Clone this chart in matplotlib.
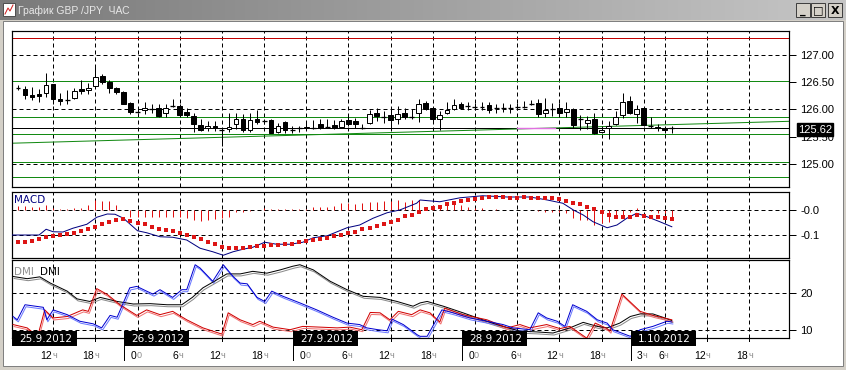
import matplotlib
matplotlib.use("Agg")
import matplotlib.pyplot as plt
import matplotlib.transforms as mtrans
from matplotlib.colors import LinearSegmentedColormap
from matplotlib.patches import Rectangle
import numpy as np

W, H, DPI = 846, 370, 100
PX = 72.0 / DPI          # one screen pixel in points

# ---- price panel: hourly candles, bar 0 = 25.9.2012 07:00 ----
OPEN = [126.395, 126.376, 126.255, 126.273, 126.304, 126.455, 126.195, 126.169, 126.213, 126.364,
        126.351, 126.424, 126.605, 126.496, 126.395, 126.322, 126.109, 125.958, 125.982, 126.013,
        126.031, 125.940, 126.060, 126.060, 125.958, 125.878, 125.715, 125.649, 125.696, 125.624,
        125.636, 125.727, 125.831, 125.624, 125.831, 125.782, 125.805, 125.587, 125.769, 125.624,
        125.667, 125.655, 125.667, 125.727, 125.678, 125.709, 125.685, 125.800, 125.787, 125.649,
        125.758, 125.940, 125.867, 125.891, 125.818, 125.940, 125.867, 125.927, 126.122, 126.031,
        125.818, 125.927, 126.013, 126.091, 126.060, 126.042, 126.042, 126.073, 126.018, 126.031,
        126.018, 126.036, 126.042, 126.104, 126.109, 125.927, 126.013, 126.031, 125.951, 126.013,
        125.831, 125.758, 125.818, 125.576, 125.667, 125.727, 125.891, 126.151, 125.909, 126.031,
        125.696, 125.685, 125.655, 125.649]
HIGH = [126.436, 126.424, 126.405, 126.376, 126.655, 126.467, 126.304, 126.345, 126.395, 126.527,
        126.485, 126.776, 126.636, 126.533, 126.413, 126.333, 126.133, 126.000, 126.133, 126.091,
        126.091, 126.104, 126.182, 126.091, 126.031, 125.940, 125.818, 125.787, 125.787, 125.667,
        125.940, 125.927, 125.909, 125.940, 125.987, 125.818, 125.831, 125.758, 125.787, 125.696,
        125.696, 125.787, 125.800, 125.818, 125.831, 125.800, 125.818, 125.878, 125.849, 125.727,
        125.987, 126.031, 125.969, 126.000, 126.060, 126.031, 126.000, 126.182, 126.151, 126.042,
        125.964, 126.133, 126.195, 126.133, 126.133, 126.122, 126.133, 126.133, 126.104, 126.122,
        126.091, 126.109, 126.151, 126.164, 126.195, 126.213, 126.122, 126.122, 126.133, 126.031,
        125.891, 125.878, 125.940, 125.696, 125.787, 125.969, 126.304, 126.242, 126.073, 126.031,
        125.867, 125.740, 125.696, 125.696]
LOW = [126.345, 126.195, 126.169, 126.133, 126.231, 126.091, 126.073, 126.104, 126.195, 126.273,
       126.273, 126.424, 126.455, 126.304, 126.285, 126.104, 125.922, 125.927, 125.922, 125.940,
       125.867, 125.867, 126.042, 125.867, 125.867, 125.576, 125.605, 125.605, 125.605, 125.322,
       125.587, 125.636, 125.587, 125.587, 125.740, 125.727, 125.564, 125.564, 125.564, 125.564,
       125.587, 125.636, 125.636, 125.636, 125.649, 125.636, 125.655, 125.696, 125.667, 125.636,
       125.727, 125.787, 125.758, 125.636, 125.740, 125.831, 125.831, 125.769, 125.982, 125.787,
       125.618, 125.909, 125.987, 126.013, 125.982, 125.982, 125.982, 125.940, 125.940, 125.951,
       125.927, 125.980, 126.031, 126.078, 125.860, 125.867, 125.878, 125.867, 125.867, 125.667,
       125.624, 125.636, 125.545, 125.564, 125.455, 125.709, 125.849, 125.909, 125.758, 125.696,
       125.667, 125.605, 125.564, 125.564]
CLOSE = [126.395, 126.255, 126.231, 126.236, 126.436, 126.195, 126.145, 126.169, 126.333, 126.327,
         126.395, 126.595, 126.504, 126.395, 126.315, 126.104, 125.958, 125.958, 126.031, 126.013,
         125.878, 126.018, 126.060, 125.891, 125.891, 125.727, 125.624, 125.696, 125.655, 125.624,
         125.685, 125.831, 125.618, 125.813, 125.769, 125.782, 125.564, 125.696, 125.624, 125.624,
         125.667, 125.678, 125.667, 125.667, 125.678, 125.667, 125.787, 125.740, 125.740, 125.649,
         125.909, 125.878, 125.867, 125.805, 125.909, 125.867, 125.867, 126.104, 126.013, 125.831,
         125.891, 125.982, 126.073, 126.031, 126.060, 126.042, 126.042, 125.987, 126.018, 126.031,
         126.018, 126.036, 126.042, 126.104, 125.922, 125.982, 126.013, 125.927, 126.000, 125.715,
         125.831, 125.800, 125.564, 125.624, 125.696, 125.867, 126.133, 125.940, 126.013, 125.709,
         125.696, 125.655, 125.618, 125.649]

LEVEL_RED = 127.30
LEVELS_GREEN = [126.52, 125.85, 125.545, 125.03, 124.76]
LAST_LINE = 125.65
LAST_LABEL = "125.62"
TREND_X = [-0.85, 109.7]
TREND_Y = [125.38, 125.78]
PINK_X = [71.0, 76.4]
PRICE_TICKS = [127.0, 126.5, 126.0, 125.5, 125.0]
PRICE_GRID = [127.0, 126.0, 125.0]

# ---- MACD panel ----
MACD_X = [-1, 3, 4, 5, 6.4, 7.8, 9.8, 11.2, 12.7, 13.8, 15, 17, 18.3, 20.2, 22, 24, 25.9, 27.7, 29.2,
          30.6, 32, 33.4, 35.1, 36.8, 38.7, 40.5, 42, 44, 46.8, 48.6, 50.5, 52.5, 54.3, 56.7, 57.2,
          60, 62.9, 66.1, 69.6, 72.8, 75.3, 77.5, 79, 80.4, 81.8, 83.8, 85.2, 86.6, 88, 89.5, 91.3, 93]
MACD_Y = [-0.100, -0.100, -0.077, -0.087, -0.088, -0.073, -0.057, -0.029, -0.016, -0.017, -0.033,
          -0.083, -0.091, -0.107, -0.109, -0.120, -0.153, -0.167, -0.181, -0.167, -0.157, -0.149,
          -0.129, -0.137, -0.137, -0.129, -0.111, -0.103, -0.071, -0.060, -0.033, -0.011, 0.000,
          0.027, 0.040, 0.033, 0.049, 0.057, 0.052, 0.052, 0.040, 0.027, 0.000, -0.020, -0.047,
          -0.071, -0.060, -0.033, -0.013, -0.027, -0.047, -0.067]
SIGNAL = [-0.129, -0.127, -0.123, -0.117, -0.109, -0.104, -0.100, -0.097, -0.091, -0.084,
          -0.077, -0.069, -0.057, -0.047, -0.040, -0.037, -0.044, -0.053, -0.057, -0.067,
          -0.077, -0.080, -0.083, -0.093, -0.100, -0.107, -0.116, -0.127, -0.137, -0.147,
          -0.151, -0.153, -0.153, -0.149, -0.144, -0.143, -0.140, -0.140, -0.137, -0.136,
          -0.129, -0.124, -0.120, -0.116, -0.111, -0.104, -0.100, -0.093, -0.087, -0.077,
          -0.071, -0.063, -0.057, -0.049, -0.040, -0.023, -0.020, -0.008, 0.003, 0.009,
          0.013, 0.023, 0.027, 0.036, 0.040, 0.044, 0.049, 0.051, 0.051, 0.051,
          0.049, 0.049, 0.051, 0.049, 0.049, 0.047, 0.047, 0.043, 0.037, 0.029,
          0.023, 0.013, 0.003, -0.009, -0.020, -0.029, -0.029, -0.027, -0.020, -0.024,
          -0.027, -0.029, -0.033, -0.037]
HIST = [0.017, 0.017, 0.013, 0.013, 0.020, 0.007, 0.004, 0.004, 0.009, 0.009,
        0.020, 0.040, 0.037, 0.037, 0.020, 0.000, -0.027, -0.027, -0.029, -0.029,
        -0.029, -0.027, -0.027, -0.029, -0.033, -0.040, -0.044, -0.040, -0.036, -0.033,
        -0.027, -0.007, -0.007, -0.004, 0.000, 0.007, 0.003, 0.003, 0.003, 0.003,
        0.003, 0.003, 0.013, 0.013, 0.013, 0.017, 0.027, 0.027, 0.023, 0.027,
        0.033, 0.033, 0.036, 0.036, 0.040, 0.033, 0.040, 0.040, 0.013, 0.020,
        0.020, 0.027, 0.027, 0.020, 0.013, 0.009, 0.007, 0.000, 0.003, 0.000,
        0.000, 0.000, 0.000, 0.000, -0.003, -0.007, -0.009, -0.009, -0.013, -0.033,
        -0.040, -0.040, -0.060, -0.053, -0.049, -0.033, -0.020, -0.007, 0.009, 0.000,
        -0.004, -0.013, -0.013, -0.033]

# ---- DMI panel ----
ADX_X = [-0.7, 1.3, 3.1, 4.6, 7.0, 8.4, 10.2, 11.7, 14.1, 16.4, 18.8, 21.2, 23.3, 24.8, 26.3, 28.3,
         29.7, 31.6, 33.4, 35.4, 37.3, 39.1, 40.1, 42.0, 44.4, 46.8, 49.1, 51.5, 53.9, 56.2, 57.2,
         58.2, 60.5, 63.3, 66.7, 69.0, 71.4, 73.8, 76.1, 78.5, 80.4, 82.4, 83.8, 85.6, 87.1, 88.5,
         90.3, 91.7, 93.0]
ADX_Y = [24.5, 23.9, 24.4, 22.7, 20.5, 18.4, 17.7, 18.8, 17.7, 17.0, 17.1, 16.8, 16.8, 18.8, 21.4,
         23.6, 25.2, 25.2, 25.9, 25.4, 26.3, 27.3, 27.7, 26.3, 23.2, 20.9, 19.1, 18.8, 17.7, 16.4,
         17.3, 17.7, 16.4, 14.6, 12.3, 10.9, 9.6, 9.4, 9.1, 10.5, 12.0, 10.9, 10.5, 11.8, 13.6, 14.3,
         14.3, 13.4, 12.5]
PDI_X = [-0.7, -0.1, 1.0, 2.1, 3.6, 4.1, 5.0, 7.0, 8.8, 10.7, 11.9, 13.1, 14.1, 15.9, 16.9, 18.3,
         19.2, 20.2, 22.0, 23.3, 24.0, 25.2, 25.9, 27.7, 29.2, 30.6, 31.6, 32.6, 34.0, 35.1, 36.1,
         37.7, 40.1, 42.5, 44.8, 46.8, 48.6, 49.6, 51.2, 52.5, 53.2, 54.8, 56.8, 57.2, 58.2, 60.3,
         61.9, 64.3, 66.7, 69.0, 70.4, 72.8, 74.0, 75.2, 76.7, 77.8, 78.9, 80.9, 82.4, 83.8, 84.6,
         87.1, 88.5, 90.3, 92.3, 93.0]
PDI_Y = [13.6, 12.7, 16.8, 16.5, 16.1, 12.7, 15.4, 14.1, 12.3, 11.6, 10.5, 13.9, 13.4, 21.4, 21.8,
         20.5, 19.7, 20.9, 18.8, 20.9, 20.9, 27.7, 26.8, 23.2, 27.7, 24.5, 22.7, 22.5, 18.8, 17.7,
         20.5, 19.1, 17.3, 15.4, 13.4, 11.8, 11.4, 10.5, 10.0, 9.7, 12.9, 11.4, 8.6, 8.2, 8.2, 15.4,
         14.6, 13.2, 12.3, 11.4, 10.5, 10.0, 14.6, 13.2, 12.3, 10.9, 16.8, 15.0, 12.7, 11.8, 10.0,
         8.2, 10.0, 10.9, 12.3, 12.1]
MDI_X = [-0.7, 1.3, 2.8, 3.8, 5.0, 7.0, 9.2, 10.0, 11.2, 12.7, 14.5, 16.9, 18.3, 20.2, 22.0, 24.0,
         26.3, 29.0, 29.9, 31.6, 33.4, 34.4, 36.3, 38.7, 40.5, 43.0, 45.4, 47.2, 48.9, 50.1, 51.5,
         52.9, 54.1, 56.0, 57.2, 58.6, 60.0, 60.7, 63.3, 66.7, 69.6, 71.4, 72.8, 75.2, 77.1, 78.5,
         80.9, 82.1, 83.8, 84.2, 85.9, 88.5, 90.3, 93.0]
MDI_Y = [11.4, 10.5, 8.2, 15.4, 13.2, 13.6, 15.4, 15.0, 21.2, 19.6, 16.8, 13.9, 15.4, 14.1, 15.0,
         12.7, 10.5, 8.8, 14.6, 12.7, 11.4, 12.3, 10.7, 10.0, 10.9, 10.7, 10.5, 10.7, 10.0, 14.7,
         14.6, 12.7, 15.0, 14.1, 15.4, 14.6, 12.1, 15.9, 14.1, 12.7, 10.5, 11.4, 10.5, 11.4, 10.3,
         10.9, 7.7, 11.8, 10.3, 9.6, 19.7, 15.0, 13.9, 12.7]

# ---- time axis ----
GRID_IDX = [5, 11, 17, 23, 29, 35, 41, 47, 53, 59, 65, 71, 77, 83, 89, 92, 98, 104]
TIME_NUM = ["12", "18", "0", "6", "12", "18", "0", "6", "12", "18", "0", "6", "12", "18",
            "3", "6", "12", "18"]
TIME_SUF = ["ч", "ч", "0", "ч", "ч", "ч", "0", "ч", "ч", "ч", "0", "ч", "ч", "ч", "ч", "ч", "ч", "ч"]
DAY_SEP = [15.1, 39.1, 63.2, 87.2]
DAY_TXT = ["25.9.2012", "26.9.2012", "27.9.2012", "28.9.2012", "1.10.2012"]

XMIN, XMAX = -0.853, 109.67
BAR_PX = 7.03
NARROW = "Liberation Sans"

plt.rcParams["font.family"] = ["DejaVu Sans"]
fig = plt.figure(figsize=(W / DPI, H / DPI), dpi=DPI, facecolor="#d4d0c8")


def px_axes(x0, y0, x1, y1):
    return fig.add_axes([x0 / W, 1 - y1 / H, (x1 - x0) / W, (y1 - y0) / H])


def fig_rect(x0, y0, x1, y1, z=5, **kw):
    fig.add_artist(Rectangle((x0 / W, 1 - y1 / H), (x1 - x0) / W, (y1 - y0) / H,
                             transform=fig.transFigure, zorder=z, **kw))


# window chrome
fig_rect(3, 21, 843, 366, z=-10, facecolor="white", edgecolor="#808080", lw=PX)
axt = px_axes(0, 0, 846, 20)
axt.imshow(np.linspace(0, 1, 256)[None, :], aspect="auto", extent=[0, 1, 0, 1],
           cmap=LinearSegmentedColormap.from_list("tb", ["#7a7a7a", "#c6c6c6"]))
axt.set_axis_off()
fig_rect(3, 3, 15, 16, facecolor="white", edgecolor="#505050", lw=PX)
fig.add_artist(plt.Line2D([5 / W, 8 / W, 10 / W, 13 / W],
                          [1 - 14 / H, 1 - 8 / H, 1 - 11 / H, 1 - 5 / H],
                          transform=fig.transFigure, color="#d02020", lw=PX, zorder=6))
fig.text(18 / W, 1 - 10.5 / H, "График GBP /JPY  ЧАС", color="#e8e8e8", fontsize=7.5,
         family=NARROW, va="center", ha="left", zorder=6)
for (bx, glyph) in [(796, "_"), (811, "□"), (828, "X")]:
    fig_rect(bx, 3, bx + 14, 17, facecolor="#d4d0c8", edgecolor="#404040", lw=PX)
    fig.text((bx + 7) / W, 1 - 10.5 / H, glyph, fontsize=8, fontweight="bold",
             ha="center", va="center", color="black", zorder=6)

axp = px_axes(12, 31, 789, 187)
axm = px_axes(12, 192, 789, 258)
axd = px_axes(12, 260, 789, 338)
DASH = (0, (4, 3))
for ax in (axp, axm, axd):
    ax.set_xlim(XMIN, XMAX)
    ax.set_facecolor("white")
    for s in ax.spines.values():
        s.set_linewidth(1.2 * PX)
        s.set_color("black")
    ax.tick_params(axis="x", bottom=False, labelbottom=False)
    ax.yaxis.tick_right()
    ax.tick_params(axis="y", direction="out", length=5, width=PX, pad=3, labelsize=8)
    for g in GRID_IDX:
        ax.axvline(g, color="black", lw=PX, ls=DASH, zorder=1)

# price panel
axp.set_ylim(124.58, 127.43)
axp.set_yticks(PRICE_TICKS)
axp.set_yticklabels([f"{v:.2f}" for v in PRICE_TICKS])
for v in PRICE_GRID:
    axp.axhline(v, color="black", lw=PX, ls=DASH, zorder=1)
axp.axhline(LEVEL_RED, color="#c00000", lw=PX, zorder=2)
for v in LEVELS_GREEN:
    axp.axhline(v, color="#138a13", lw=PX, zorder=2)
axp.axhline(LAST_LINE, color="black", lw=PX, zorder=2)
axp.plot(PINK_X, [LAST_LINE] * 2, color="#e070e0", lw=1.4 * PX, zorder=3)
axp.plot(TREND_X, TREND_Y, color="#138a13", lw=PX, zorder=2)

idx = np.arange(len(OPEN))
o, h, l, c = (np.array(a) for a in (OPEN, HIGH, LOW, CLOSE))
axp.vlines(idx, l, h, color="black", lw=PX, zorder=4)
flat = np.abs(c - o) < 0.012
up = (c > o) & ~flat
dn = (c < o) & ~flat
axp.bar(idx[up], (c - o)[up], bottom=o[up], width=0.66, facecolor="white",
        edgecolor="black", lw=PX, zorder=5)
axp.bar(idx[dn], (c - o)[dn], bottom=o[dn], width=0.66, facecolor="black",
        edgecolor="black", lw=PX, zorder=5)
axp.hlines(o[flat], idx[flat] - 0.35, idx[flat] + 0.35, color="black", lw=1.3 * PX, zorder=5)
lab_tr = mtrans.blended_transform_factory(axp.transAxes, axp.transData)
axp.text(1 + 9 / 777, 125.63, LAST_LABEL, transform=lab_tr, color="white", fontsize=8,
         family=NARROW, va="center", ha="left", clip_on=False, zorder=20,
         bbox=dict(boxstyle="square,pad=0.12", facecolor="black", edgecolor="black"))

# MACD panel
axm.set_ylim(-0.192, 0.072)
axm.set_yticks([0.0, -0.1])
axm.set_yticklabels(["-0.0", "-0.1"])
for v in (0.0, -0.1):
    axm.axhline(v, color="black", lw=PX, ls=DASH, zorder=1)
axm.vlines(idx, 0, HIST, color="#e01010", lw=PX, zorder=3)
axm.plot(MACD_X, MACD_Y, color="#000080", lw=PX, zorder=4)
axm.plot(idx, SIGNAL, ls="none", marker="s", ms=4 * PX, mew=0, color="#dd1515", zorder=5)
axm.text(2 / 777, 1 - 7.7 / 66, "MACD", transform=axm.transAxes, color="#000080",
         fontsize=7.5, va="center", ha="left")

# DMI panel
axd.set_ylim(7.74, 28.99)
axd.set_yticks([20, 10])
for v in (20, 10):
    axd.axhline(v, color="black", lw=PX, ls=DASH, zorder=1)
shadow = mtrans.offset_copy(axd.transData, fig=fig, x=1, y=-2, units="dots")
for xs, ys, c1, c2 in [(ADX_X, ADX_Y, "black", "#8a8a8a"),
                       (MDI_X, MDI_Y, "#d00000", "#f07070"),
                       (PDI_X, PDI_Y, "#0000d0", "#6a78ff")]:
    axd.plot(xs, ys, color=c2, lw=PX, transform=shadow, zorder=3)
    axd.plot(xs, ys, color=c1, lw=PX, zorder=4)
axd.text(2 / 777, 1 - 12 / 78, "DMI", transform=axd.transAxes, color="#909090",
         fontsize=7.5, va="center", ha="left")
axd.text(28 / 777, 1 - 12 / 78, "DMI", transform=axd.transAxes, color="black",
         fontsize=7.5, va="center", ha="left")

for ax in (axp, axm, axd):
    for t in ax.get_yticklabels():
        t.set_family(NARROW)

# time axis under DMI panel
dh = 338 - 260
tl = mtrans.blended_transform_factory(axd.transData, axd.transAxes)
tl_num = mtrans.offset_copy(tl, fig=fig, x=-1, y=0, units="dots")
ylab = -(356 - 338) / dh
for g, n, s in zip(GRID_IDX, TIME_NUM, TIME_SUF):
    axd.plot([g, g], [0, -3 / dh], transform=tl, color="black", lw=PX, clip_on=False)
    axd.text(g, ylab, n, transform=tl_num, ha="right", va="center", fontsize=7.5,
             family=NARROW, clip_on=False)
    axd.text(g, ylab, s, transform=tl_num, ha="left", va="center", fontsize=6.5,
             family=NARROW, color="#8c8c8c", clip_on=False)
for d in DAY_SEP:
    axd.plot([d, d], [0, -22 / dh], transform=tl, color="black", lw=PX, clip_on=False)
for x0, txt in zip([XMIN] + DAY_SEP, DAY_TXT):
    axd.add_patch(Rectangle((x0, -8 / dh), 65 / BAR_PX, 15 / dh, transform=tl,
                            facecolor="black", edgecolor="none", clip_on=False, zorder=10))
    axd.text(x0 + 7 / BAR_PX, -0.5 / dh, txt, transform=tl, color="white", fontsize=7.5,
             ha="left", va="center", clip_on=False, zorder=11)

fig.savefig("out.png", dpi=DPI, facecolor=fig.get_facecolor())
